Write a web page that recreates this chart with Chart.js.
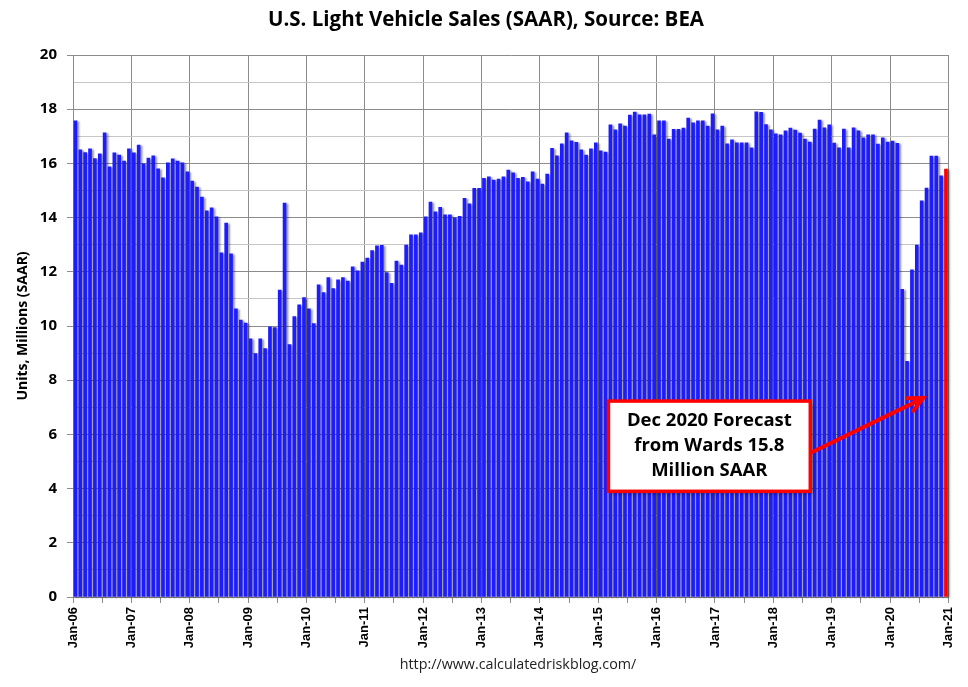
<!DOCTYPE html>
<html>
<head>
<meta charset="utf-8">
<title>U.S. Light Vehicle Sales (SAAR)</title>
<script src="https://cdn.jsdelivr.net/npm/chart.js@4.4.1/dist/chart.umd.min.js"></script>
<style>
  html, body { margin: 0; padding: 0; background: #fff; }
  #wrap { width: 968px; height: 687px; }
</style>
</head>
<body>
<div id="wrap"><canvas id="salesChart" width="968" height="687"></canvas></div>
<script>
// monthly light vehicle sales, millions SAAR
const sales2006 = [17.57, 16.50, 16.40, 16.54, 16.18, 16.35, 17.13, 15.87, 16.39, 16.31, 16.09, 16.54];
const sales2007 = [16.39, 16.68, 15.98, 16.20, 16.28, 15.80, 15.47, 16.02, 16.17, 16.09, 16.02, 15.69];
const sales2008 = [15.35, 15.13, 14.76, 14.25, 14.36, 14.03, 12.70, 13.80, 12.66, 10.63, 10.22, 10.11];
const sales2009 = [9.53, 8.98, 9.53, 9.17, 9.97, 9.94, 11.33, 14.54, 9.31, 10.35, 10.78, 11.05];
const sales2010 = [10.63, 10.09, 11.52, 11.23, 11.79, 11.38, 11.70, 11.79, 11.66, 12.18, 12.04, 12.36];
const sales2011 = [12.51, 12.78, 12.96, 12.98, 11.97, 11.57, 12.40, 12.25, 12.99, 13.36, 13.36, 13.44];
const sales2012 = [14.03, 14.57, 14.21, 14.38, 14.10, 14.10, 13.99, 14.05, 14.71, 14.51, 15.08, 15.08];
const sales2013 = [15.45, 15.50, 15.38, 15.42, 15.50, 15.75, 15.65, 15.45, 15.49, 15.32, 15.69, 15.42];
const sales2014 = [15.24, 15.61, 16.56, 16.28, 16.72, 17.13, 16.83, 16.78, 16.50, 16.31, 16.54, 16.76];
const sales2015 = [16.46, 16.42, 17.42, 17.24, 17.46, 17.38, 17.78, 17.89, 17.79, 17.79, 17.82, 17.05];
const sales2016 = [17.57, 17.57, 16.90, 17.26, 17.26, 17.30, 17.67, 17.50, 17.57, 17.57, 17.38, 17.83];
const sales2017 = [17.24, 17.38, 16.72, 16.87, 16.76, 16.76, 16.76, 16.57, 17.90, 17.88, 17.43, 17.24];
const sales2018 = [17.09, 17.05, 17.20, 17.30, 17.23, 17.12, 16.90, 16.79, 17.27, 17.60, 17.31, 17.42];
const sales2019 = [16.75, 16.57, 17.27, 16.57, 17.31, 17.20, 16.94, 17.05, 17.05, 16.71, 16.94, 16.79];
const sales2020 = [16.82, 16.74, 11.35, 8.70, 12.07, 12.99, 14.62, 15.09, 16.27, 16.27, 15.54, 15.79];

const yearLabels = ["Jan-06", "Jan-07", "Jan-08", "Jan-09", "Jan-10", "Jan-11", "Jan-12", "Jan-13",
                    "Jan-14", "Jan-15", "Jan-16", "Jan-17", "Jan-18", "Jan-19", "Jan-20", "Jan-21"];

const noteLines = ["Dec 2020 Forecast", "from Wards 15.8", "Million SAAR"];

const monthly = [].concat(sales2006, sales2007, sales2008, sales2009, sales2010, sales2011,
    sales2012, sales2013, sales2014, sales2015, sales2016, sales2017, sales2018, sales2019, sales2020);

// bars sit in the middle of their month slot on a linear month axis
const points = monthly.map((v, i) => ({ x: i + 0.5, y: v }));
const lastIdx = points.length - 1;

const GRID = "#8c8c8c";
const GRID_MINOR = "#c6c6c6";
const SANS = "'Open Sans'";

// grey shadow behind the bars, like the Excel original
const barShadow = {
    id: "barShadow",
    beforeDatasetsDraw(chart) {
        const ctx = chart.ctx;
        ctx.save();
        ctx.shadowColor = "rgba(0,0,0,0.4)";
        ctx.shadowBlur = 2;
        ctx.shadowOffsetX = 2;
        ctx.shadowOffsetY = 1;
    },
    afterDatasetsDraw(chart) {
        chart.ctx.restore();
    }
};

// title, source line and the forecast call-out
const extraText = {
    id: "extraText",
    afterDraw(chart) {
        const ctx = chart.ctx;
        const xs = chart.scales.x, ys = chart.scales.y;
        ctx.save();

        ctx.fillStyle = "#000";
        ctx.textAlign = "center";
        ctx.textBaseline = "middle";
        ctx.font = "bold 20.5px " + SANS;
        ctx.fillText("U.S. Light Vehicle Sales (SAAR), Source: BEA", 486, 20);

        ctx.fillStyle = "#222";
        ctx.font = "14.3px " + SANS;
        ctx.fillText("http://www.calculatedriskblog.com/", 518, 665);

        // call-out box, anchored in data units
        const bx0 = xs.getPixelForValue(110.1), bx1 = xs.getPixelForValue(151.6);
        const by0 = ys.getPixelForValue(7.23), by1 = ys.getPixelForValue(3.9);
        ctx.save();
        ctx.shadowColor = "rgba(0,0,0,0.35)";
        ctx.shadowBlur = 4;
        ctx.shadowOffsetX = 3;
        ctx.shadowOffsetY = 3;
        ctx.fillStyle = "#fff";
        ctx.fillRect(bx0, by0, bx1 - bx0, by1 - by0);
        ctx.restore();
        ctx.strokeStyle = "#ff0000";
        ctx.lineWidth = 3.5;
        ctx.strokeRect(bx0, by0, bx1 - bx0, by1 - by0);

        ctx.fillStyle = "#000";
        ctx.font = "bold 18.5px " + SANS;
        const cx = (bx0 + bx1) / 2;
        noteLines.forEach((line, i) => ctx.fillText(line, cx, by0 + 20 + i * 25));

        // arrow pointing at the recovery bars
        const ax0 = bx1 + 1, ay0 = ys.getPixelForValue(5.33);
        const ax1 = xs.getPixelForValue(174.8), ay1 = ys.getPixelForValue(7.34);
        const ang = Math.atan2(ay1 - ay0, ax1 - ax0);
        ctx.strokeStyle = "#ff0000";
        ctx.lineWidth = 4;
        ctx.lineCap = "round";
        ctx.beginPath();
        ctx.moveTo(ax0, ay0);
        ctx.lineTo(ax1, ay1);
        ctx.moveTo(ax1 - 16 * Math.cos(ang - 0.45), ay1 - 16 * Math.sin(ang - 0.45));
        ctx.lineTo(ax1, ay1);
        ctx.lineTo(ax1 - 16 * Math.cos(ang + 0.45), ay1 - 16 * Math.sin(ang + 0.45));
        ctx.stroke();

        ctx.restore();
    }
};

new Chart(document.getElementById("salesChart"), {
    type: "bar",
    data: {
        datasets: [{
            label: "Light Vehicle Sales",
            data: points,
            backgroundColor: ctx => ctx.dataIndex === lastIdx ? "#ff0000" : "#1c1cff",
            borderWidth: 0,
            barThickness: 3,
            clip: 4
        }]
    },
    options: {
        responsive: false,
        animation: false,
        devicePixelRatio: 1,
        layout: { padding: { top: 55, right: 16, left: 0, bottom: 0 } },
        plugins: {
            legend: { display: false },
            title: { display: false },
            tooltip: { enabled: false }
        },
        scales: {
            x: {
                type: "linear",
                min: 0,
                max: 180,
                offset: false,
                afterFit: scale => { scale.height = 90; },
                border: { color: GRID, width: 1 },
                grid: {
                    offset: false,
                    color: ctx => ctx.tick && ctx.tick.value % 12 === 0 ? GRID : "rgba(0,0,0,0)",
                    tickColor: GRID,
                    tickLength: 6
                },
                ticks: {
                    stepSize: 6,
                    autoSkip: false,
                    minRotation: 90,
                    maxRotation: 90,
                    padding: 4,
                    color: "#000",
                    font: { family: "'Liberation Sans'", size: 13, weight: "bold" },
                    callback: v => v % 12 === 0 ? yearLabels[v / 12] : ""
                }
            },
            y: {
                min: 0,
                max: 20,
                afterFit: scale => { scale.width = 73; },
                border: { color: GRID, width: 1 },
                grid: {
                    color: ctx => ctx.tick && ctx.tick.value % 2 === 0 ? GRID : GRID_MINOR,
                    tickColor: ctx => ctx.tick && ctx.tick.value % 2 === 0 ? GRID : "rgba(0,0,0,0)",
                    tickLength: 6
                },
                ticks: {
                    stepSize: 1,
                    padding: 10,
                    color: "#000",
                    font: { family: SANS, size: 15, weight: "bold" },
                    callback: v => v % 2 === 0 ? v : ""
                },
                title: {
                    display: true,
                    text: "Units, Millions (SAAR)",
                    color: "#000",
                    padding: { top: 15, bottom: 0 },
                    font: { family: SANS, size: 14, weight: "bold" }
                }
            }
        }
    },
    plugins: [barShadow, extraText]
});
</script>
</body>
</html>
